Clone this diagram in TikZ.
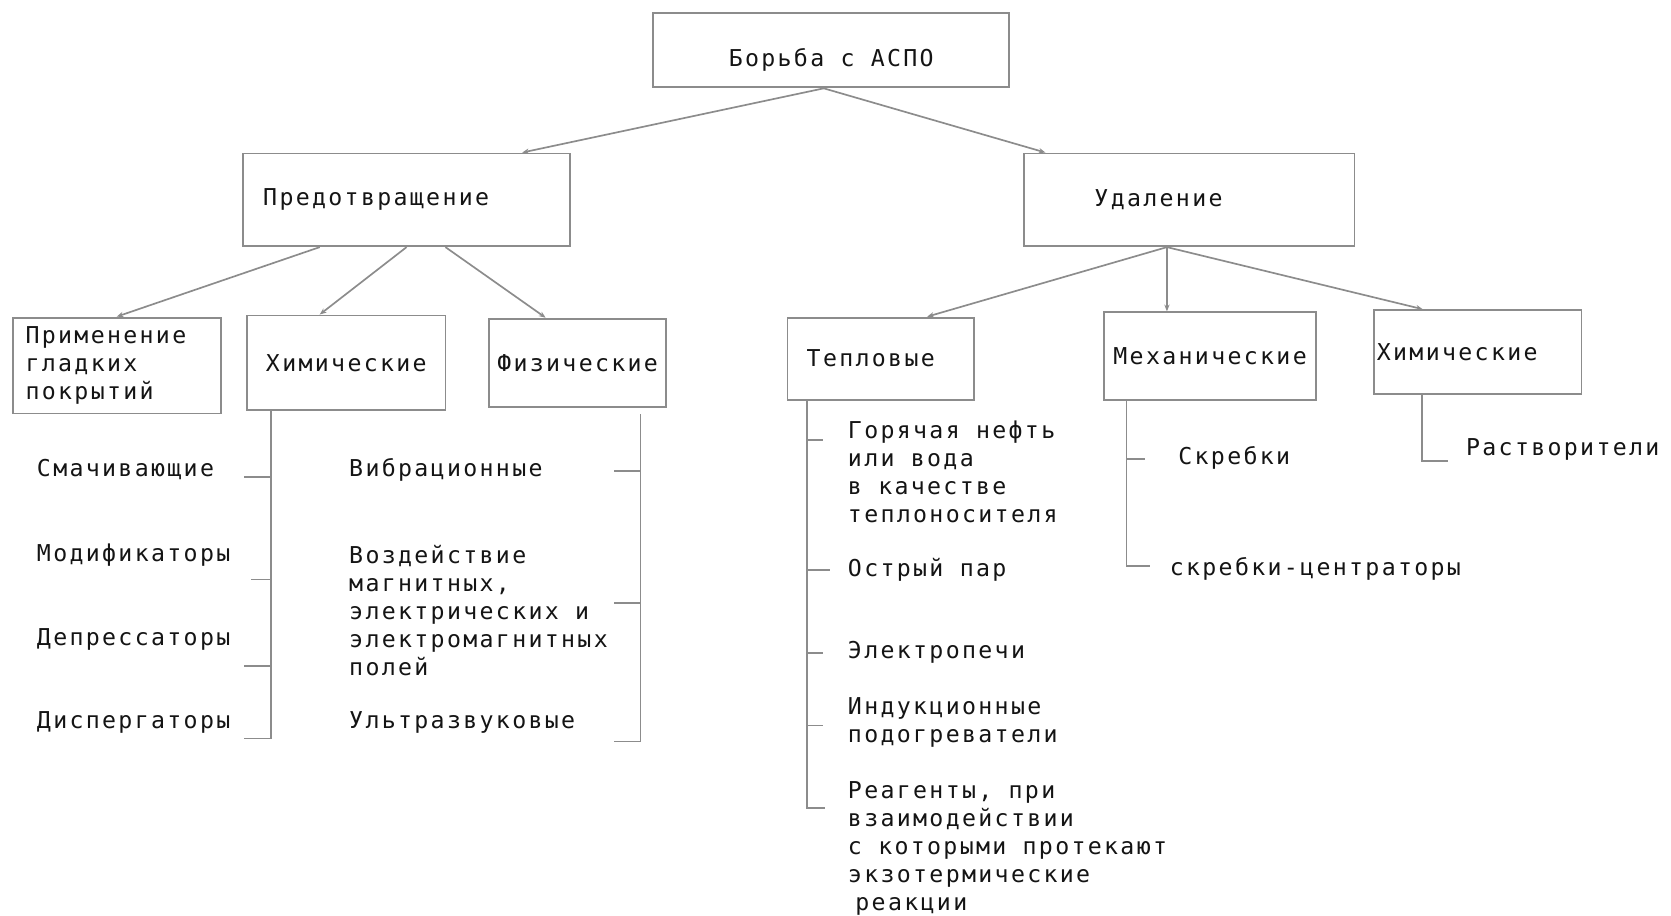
\documentclass[tikz,border=0pt]{standalone}
\usepackage{fontspec}
\setmainfont{DejaVu Sans Mono}[LetterSpace=10]
\usetikzlibrary{arrows.meta}
\definecolor{linegray}{HTML}{8c8c8c}
\definecolor{textgray}{HTML}{141414}

\begin{document}
\begin{tikzpicture}[
    font=\fontsize{6.2}{7.5}\selectfont, text=textgray,
    box/.style={shape=rectangle, draw=linegray, line width=0.5pt, inner sep=1pt},
    item/.style={anchor=west, align=left, inner sep=0pt},
    link/.style={draw=linegray, line width=0.45pt},
    tip/.style={-{Stealth[length=1.8pt, width=1.4pt]}}]
    \useasboundingbox (0, 0) rectangle (15.68, -8.59);

    \node at (7.80, -0.47) (Borba) [box, minimum width=3.34cm, minimum height=0.70cm, text height=0.35cm] {Борьба с АСПО};
    \node at (3.815, -1.875) (Pred) [box, align=left, text width=2.69cm, inner xsep=0.19cm, minimum height=0.87cm] {Предотвращение};
    \node at (11.16, -1.875) (Udal) [box, align=left, text width=1.78cm, inner xsep=0.66cm, minimum height=0.87cm] {Удаление};

    \node at (1.095, -3.43) (Prim) [box, align=left, text width=1.71cm, inner xsep=0.12cm, minimum height=0.90cm] {Применение\\гладких\\покрытий};
    \node at (3.25, -3.405) (HimP) [box, minimum width=1.86cm, minimum height=0.89cm] {Химические};
    \node at (5.42, -3.405) (Fiz) [box, minimum width=1.66cm, minimum height=0.83cm] {Физические};
    \node at (8.265, -3.365) (Tepl) [box, align=left, text width=1.39cm, inner xsep=0.18cm, minimum height=0.77cm] {Тепловые};
    \node at (11.355, -3.34) (Meh) [box, minimum width=1.99cm, minimum height=0.82cm] {Механические};
    \node at (13.865, -3.305) (HimU) [box, align=left, text width=1.89cm, inner xsep=0.03cm, minimum height=0.79cm] {Химические};

    \draw[link, tip] ([xshift=-0.07cm]Borba.south) -- ([xshift=1.085cm]Pred.north);
    \draw[link, tip] ([xshift=-0.07cm]Borba.south) -- ([xshift=-1.35cm]Udal.north);

    \draw[link, tip] ([xshift=-0.815cm]Pred.south) -- (Prim.north);
    \draw[link, tip] (Pred.south) -- ([xshift=-0.25cm]HimP.north);
    \draw[link, tip] ([xshift=0.365cm]Pred.south) -- ([xshift=-0.30cm]Fiz.north);

    \draw[link, tip] ([xshift=-0.21cm]Udal.south) -- ([xshift=0.435cm]Tepl.north);
    \draw[link, tip] ([xshift=-0.21cm]Udal.south) -- ([xshift=-0.405cm]Meh.north);
    \draw[link, tip] ([xshift=-0.21cm]Udal.south) -- ([xshift=-0.515cm]HimU.north);

    % chemical prevention
    \node at (0.34, -4.41) (Smach) [item] {Смачивающие};
    \node at (0.34, -5.21) (Modif) [item] {Модификаторы};
    \node at (0.34, -6.00) (Depr) [item] {Депрессаторы};
    \node at (0.34, -6.78) (Disp) [item] {Диспергаторы};
    \draw[link] ([xshift=0.23cm]HimP.south west) coordinate (hpTrunk) -- ++(0, -3.07) -- ++(-0.25, 0);
    \draw[link] (hpTrunk) ++(0, -0.62) -- ++(-0.25, 0);
    \draw[link] (hpTrunk) ++(0, -1.58) -- ++(-0.19, 0);
    \draw[link] (hpTrunk) ++(0, -2.39) -- ++(-0.25, 0);

    % physical prevention
    \node at (3.27, -4.41) (Vibr) [item] {Вибрационные};
    \node at (3.27, -5.73) (Vozd) [item] {Воздействие\\магнитных,\\электрических и\\электромагнитных\\полей};
    \node at (3.27, -6.78) (Ultra) [item] {Ультразвуковые};
    \draw[link] ([xshift=-0.25cm, yshift=-0.06cm]Fiz.south east) coordinate (fzTrunk) -- ++(0, -3.07) -- ++(-0.25, 0);
    \draw[link] (fzTrunk) ++(0, -0.53) -- ++(-0.25, 0);
    \draw[link] (fzTrunk) ++(0, -1.77) -- ++(-0.25, 0);

    % thermal removal
    \node at (7.95, -4.43) (Gor) [item] {Горячая нефть\\или вода\\в качестве\\теплоносителя};
    \node at (7.95, -5.35) (Ostr) [item] {Острый пар};
    \node at (7.95, -6.12) (Elek) [item] {Электропечи};
    \node at (7.95, -6.78) (Ind) [item] {Индукционные\\подогреватели};
    \node at (7.95, -7.96) (Reag) [item] {Реагенты, при\\взаимодействии\\с которыми протекают\\экзотермические\\\hspace{0.07cm}реакции};
    \draw[link] ([xshift=0.19cm]Tepl.south west) coordinate (tpTrunk) -- ++(0, -3.82) -- ++(0.17, 0);
    \draw[link] (tpTrunk) ++(0, -0.37) -- ++(0.15, 0);
    \draw[link] (tpTrunk) ++(0, -1.59) -- ++(0.22, 0);
    \draw[link] (tpTrunk) ++(0, -2.37) -- ++(0.15, 0);
    \draw[link] (tpTrunk) ++(0, -3.05) -- ++(0.15, 0);

    % mechanical removal
    \node at (11.05, -4.30) (Skr) [item] {Скребки};
    \node at (10.97, -5.34) (SkrC) [item] {скребки-центраторы};
    \draw[link] ([xshift=0.22cm]Meh.south west) coordinate (mhTrunk) -- ++(0, -1.55) -- ++(0.22, 0);
    \draw[link] (mhTrunk) ++(0, -0.55) -- ++(0.17, 0);

    % chemical removal
    \node at (13.75, -4.22) (Rast) [item] {Растворители};
    \draw[link] ([xshift=0.46cm]HimU.south west) -- ++(0, -0.62) -- ++(0.25, 0);
\end{tikzpicture}
\end{document}
